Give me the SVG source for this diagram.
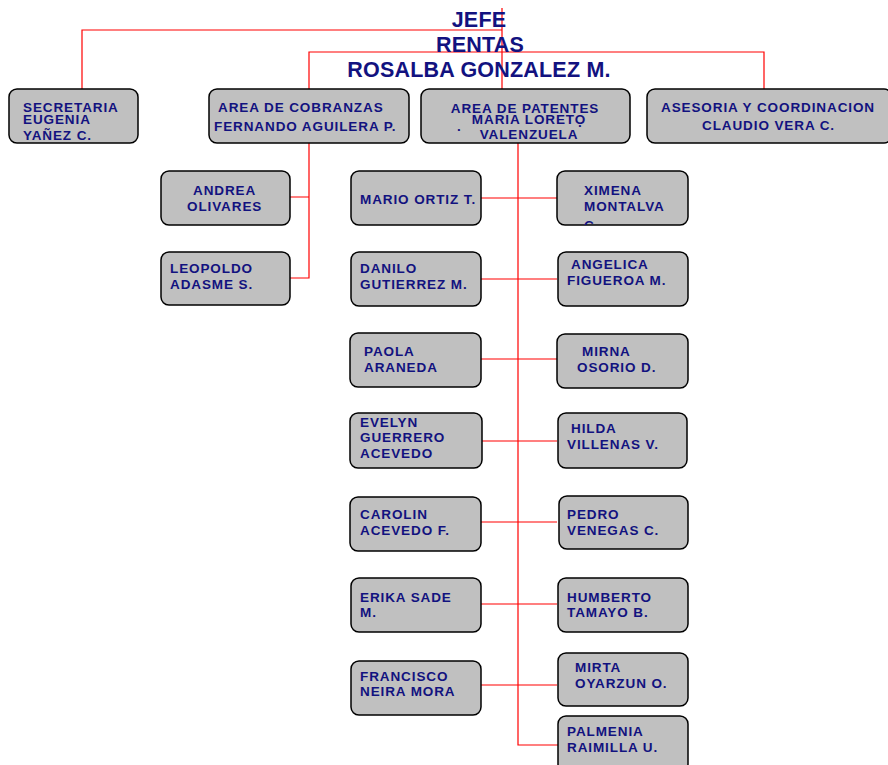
<svg xmlns="http://www.w3.org/2000/svg" width="888" height="765" viewBox="0 0 888 765">
<style>
.box{fill:#c0c0c0;stroke:#000;stroke-width:1.5}
.t{font-family:"Liberation Sans",Arial,sans-serif;font-weight:bold;font-size:13.5px;letter-spacing:0.9px;fill:#12127f}
.h{font-family:"Liberation Sans",Arial,sans-serif;font-weight:bold;font-size:21.5px;letter-spacing:0.2px;fill:#12127f}
.c{stroke:#ff0000;stroke-width:1.2;fill:none}
</style>
<defs>
<clipPath id="cx"><rect x="557" y="171" width="131" height="54" rx="8"/></clipPath>
</defs>
<g id="connectors">
<path class="c" d="M502 8V89M82 89V30H502M309 89V52H764V89M309 143V278H290M290 197H309M518 143V745H558"/>
<path class="c" d="M481 198H557M481 279H557M481 359H557M481 441H557M481 522H557M478 604H557M478 685H557"/>
</g>
<g id="jefe">
<text class="h" x="479" y="27" text-anchor="middle">JEFE</text>
<text class="h" x="480" y="52" text-anchor="middle">RENTAS</text>
<text class="h" x="479" y="77" text-anchor="middle">ROSALBA GONZALEZ M.</text>
</g>
<g id="secretaria"><rect class="box" x="9" y="89" width="129" height="54" rx="8"/>
<text class="t" x="23" y="112">SECRETARIA</text><text class="t" x="23" y="124">EUGENIA</text><text class="t" x="23" y="140">YAÑEZ C.</text></g>
<g id="cobranzas"><rect class="box" x="209" y="89" width="200" height="54" rx="8"/>
<text class="t" x="218" y="112">AREA DE COBRANZAS</text><text class="t" x="214" y="131">FERNANDO AGUILERA P.</text></g>
<g id="patentes"><rect class="box" x="421" y="89" width="209" height="54" rx="8"/>
<text class="t" x="525" y="113" text-anchor="middle">AREA DE PATENTES</text><text class="t" x="529" y="124" text-anchor="middle">MARIA LORETO</text><text class="t" x="529" y="139" text-anchor="middle">VALENZUELA</text>
<text class="t" x="457" y="131">.</text><text class="t" x="578" y="127">.</text></g>
<g id="asesoria"><rect class="box" x="647" y="89" width="245" height="54" rx="8"/>
<text class="t" x="661" y="112">ASESORIA Y COORDINACION</text><text class="t" x="702" y="130">CLAUDIO VERA C.</text></g>
<g id="andrea"><rect class="box" x="161" y="171" width="129" height="54" rx="8"/>
<text class="t" x="193" y="195">ANDREA</text><text class="t" x="187" y="211">OLIVARES</text></g>
<g id="leopoldo"><rect class="box" x="161" y="252" width="129" height="53" rx="8"/>
<text class="t" x="170" y="273">LEOPOLDO</text><text class="t" x="170" y="289">ADASME S.</text></g>
<g id="mario"><rect class="box" x="351" y="171" width="130" height="54" rx="8"/>
<text class="t" x="360" y="204">MARIO ORTIZ T.</text></g>
<g id="ximena"><rect class="box" x="557" y="171" width="131" height="54" rx="8"/>
<text class="t" x="584" y="195">XIMENA</text><text class="t" x="584" y="211">MONTALVA</text><text class="t" x="584" y="230" clip-path="url(#cx)">C.</text></g>
<g id="danilo"><rect class="box" x="351" y="252" width="130" height="54" rx="8"/>
<text class="t" x="360" y="273">DANILO</text><text class="t" x="360" y="289">GUTIERREZ  M.</text></g>
<g id="angelica"><rect class="box" x="558" y="252" width="130" height="54" rx="8"/>
<text class="t" x="571" y="269">ANGELICA</text><text class="t" x="567" y="285">FIGUEROA M.</text></g>
<g id="paola"><rect class="box" x="350" y="333" width="131" height="54" rx="8"/>
<text class="t" x="364" y="356">PAOLA</text><text class="t" x="364" y="372">ARANEDA</text></g>
<g id="mirna"><rect class="box" x="557" y="334" width="131" height="54" rx="8"/>
<text class="t" x="582" y="356">MIRNA</text><text class="t" x="577" y="372">OSORIO D.</text></g>
<g id="evelyn"><rect class="box" x="350" y="413" width="132" height="55" rx="8"/>
<text class="t" x="360" y="427">EVELYN</text><text class="t" x="360" y="442">GUERRERO</text><text class="t" x="360" y="458">ACEVEDO</text></g>
<g id="hilda"><rect class="box" x="558" y="413" width="129" height="55" rx="8"/>
<text class="t" x="571" y="433">HILDA</text><text class="t" x="567" y="449">VILLENAS V.</text></g>
<g id="carolin"><rect class="box" x="350" y="497" width="131" height="54" rx="8"/>
<text class="t" x="360" y="519">CAROLIN</text><text class="t" x="360" y="535">ACEVEDO F.</text></g>
<g id="pedro"><rect class="box" x="559" y="496" width="129" height="53" rx="8"/>
<text class="t" x="567" y="519">PEDRO</text><text class="t" x="567" y="535">VENEGAS C.</text></g>
<g id="erika"><rect class="box" x="351" y="578" width="130" height="54" rx="8"/>
<text class="t" x="360" y="602">ERIKA SADE</text><text class="t" x="360" y="617">M.</text></g>
<g id="humberto"><rect class="box" x="558" y="578" width="130" height="54" rx="8"/>
<text class="t" x="567" y="602">HUMBERTO</text><text class="t" x="567" y="617">TAMAYO B.</text></g>
<g id="francisco"><rect class="box" x="351" y="661" width="130" height="54" rx="8"/>
<text class="t" x="360" y="681">FRANCISCO</text><text class="t" x="360" y="696">NEIRA MORA</text></g>
<g id="mirta"><rect class="box" x="558" y="653" width="130" height="53" rx="8"/>
<text class="t" x="575" y="672">MIRTA</text><text class="t" x="575" y="688">OYARZUN O.</text></g>
<g id="palmenia"><rect class="box" x="558" y="716" width="130" height="56" rx="8"/>
<text class="t" x="567" y="736">PALMENIA</text><text class="t" x="567" y="752">RAIMILLA U.</text></g>
</svg>
